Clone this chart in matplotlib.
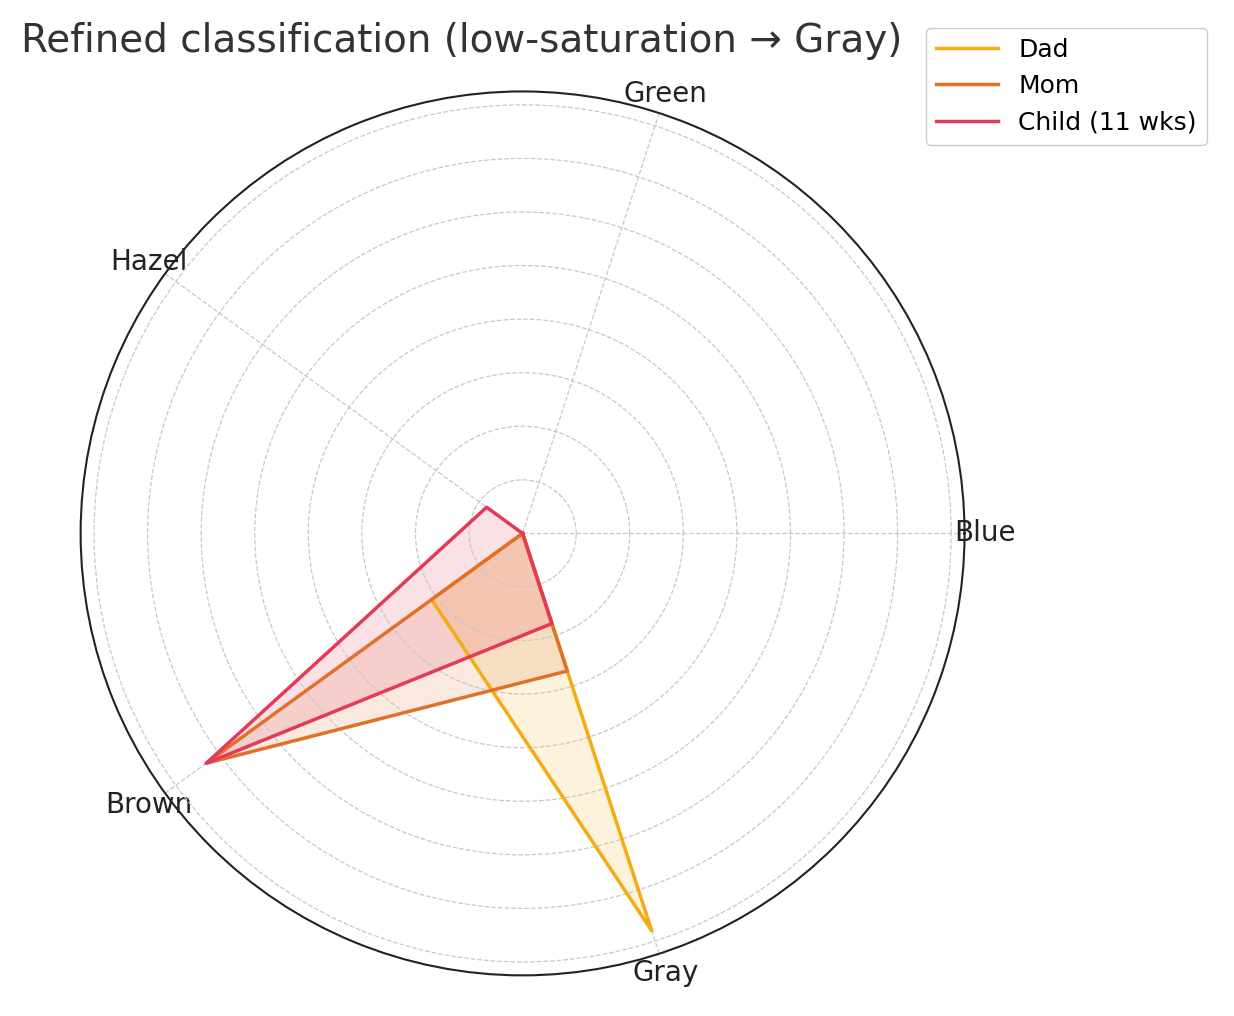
import matplotlib
matplotlib.use("Agg")
import matplotlib.pyplot as plt
import numpy as np

CATEGORIES = ["Blue", "Green", "Hazel", "Brown", "Gray"]
DAD = [0.0, 0.0, 0.0, 0.21, 0.78]
MOM = [0.0, 0.0, 0.0, 0.73, 0.27]
CHILD = [0.0, 0.0, 0.083, 0.73, 0.177]
SERIES = [("Dad", DAD, "#f5ab12"), ("Mom", MOM, "#e2702b"), ("Child (11 wks)", CHILD, "#e33a59")]

angles = np.linspace(0, 2 * np.pi, len(CATEGORIES), endpoint=False)
closed = np.concatenate([angles, angles[:1]])

fig = plt.figure(figsize=(12.34, 10.16), dpi=100)
ax = fig.add_axes([0.0635, 0.04, 0.72, 0.87], projection="polar")
for name, vals, col in SERIES:
    v = np.concatenate([vals, vals[:1]])
    ax.plot(closed, v, color=col, lw=2.5, label=name)
    ax.fill(closed, v, color=col, alpha=0.15)

ax.set_ylim(0, 0.825)
ax.set_yticks(np.arange(0.1, 0.81, 0.1))
ax.set_yticklabels([])
ax.set_xticks(angles)
ax.set_xticklabels(CATEGORIES, fontsize=20, color="#222222")
ax.tick_params(axis="x", pad=4)
ax.grid(True, color="#c8c8c8", ls="--", lw=0.9)
ax.spines["polar"].set_color("#222222")
ax.spines["polar"].set_linewidth(1.5)

fig.text(0.017, 0.96, "Refined classification (low-saturation \u2192 Gray)", fontsize=28,
         color="#333333", va="center", ha="left")
fig.legend(loc="upper right", bbox_to_anchor=(0.988, 0.985), fontsize=18, framealpha=1,
           edgecolor="#cccccc", handlelength=2.5)
fig.savefig("out.png", dpi=100, facecolor="white")
